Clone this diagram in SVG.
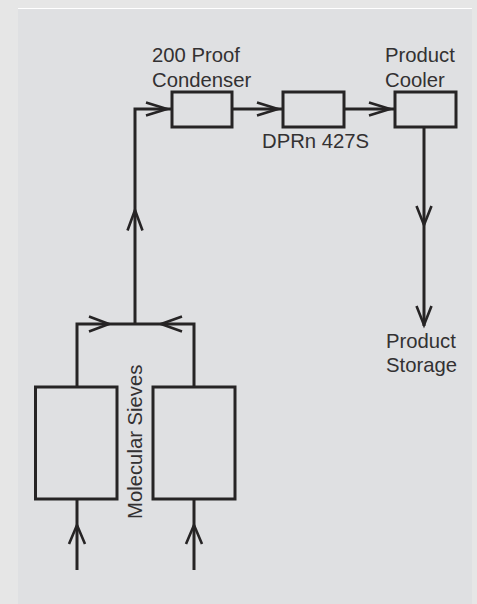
<svg xmlns="http://www.w3.org/2000/svg" width="477" height="604" viewBox="0 0 477 604">
<style>
.bg{fill:#e6e6e6}
.panel{fill:#dfe0e2}
.box{fill:none;stroke:#262425;stroke-width:3}
.ln{fill:none;stroke:#262425;stroke-width:3}
.chev{fill:none;stroke:#262425;stroke-width:2.6;stroke-linejoin:miter;stroke-miterlimit:10}
.lbl{font-family:"Liberation Sans",Arial,sans-serif;font-size:20.3px;fill:#333132}
</style>
<rect class="bg" x="0" y="0" width="477" height="604"/>
<rect class="panel" x="18" y="8" width="454" height="596"/>
<line x1="18" y1="8.5" x2="472" y2="8.5" stroke="#ffffff" stroke-width="1"/>

<g id="connectors">
  <path class="ln" d="M135,324 V109 H172"/>
  <line class="ln" x1="232" y1="109" x2="283" y2="109"/>
  <line class="ln" x1="344" y1="109" x2="395" y2="109"/>
  <line class="ln" x1="424" y1="127" x2="424" y2="326"/>
  <path class="ln" d="M77,387 V324 H194 V387"/>
  <line class="ln" x1="77" y1="570" x2="77" y2="499"/>
  <line class="ln" x1="194" y1="570" x2="194" y2="499"/>
  <polyline class="chev" points="146,102.5 167,109 146,115.5"/>
  <polyline class="chev" points="257,102.5 278,109 257,115.5"/>
  <polyline class="chev" points="369,102.5 390,109 369,115.5"/>
  <polyline class="chev" points="416.5,206 424,225 431.5,206"/>
  <polyline class="chev" points="416.5,306 424,325 431.5,306"/>
  <polyline class="chev" points="127.5,230.5 135,210 142.5,230.5"/>
  <polyline class="chev" points="89,316.5 109,324 89,331.5"/>
  <polyline class="chev" points="182,316.5 161,324 182,331.5"/>
  <polyline class="chev" points="69,544 77,525 85,544"/>
  <polyline class="chev" points="186,544 194,525 202,544"/>
</g>

<g id="condenser">
  <rect class="box" x="172" y="92" width="60" height="35"/>
  <text class="lbl" x="152" y="62">200 Proof</text>
  <text class="lbl" x="152" y="87">Condenser</text>
</g>
<g id="dprn">
  <rect class="box" x="283" y="92" width="61" height="35"/>
  <text class="lbl" x="262" y="148">DPRn 427S</text>
</g>
<g id="cooler">
  <rect class="box" x="395" y="92" width="61" height="35"/>
  <text class="lbl" x="385" y="62">Product</text>
  <text class="lbl" x="385" y="87">Cooler</text>
</g>
<g id="storage">
  <text class="lbl" x="386" y="348">Product</text>
  <text class="lbl" x="386" y="372">Storage</text>
</g>
<g id="sieve-left">
  <rect class="box" x="35.5" y="387" width="81.5" height="112"/>
</g>
<g id="sieve-right">
  <rect class="box" x="153" y="387" width="82" height="112"/>
</g>
<g id="sieves-label">
  <text class="lbl" transform="translate(142,519) rotate(-90)" x="0" y="0">Molecular Sieves</text>
</g>
</svg>
